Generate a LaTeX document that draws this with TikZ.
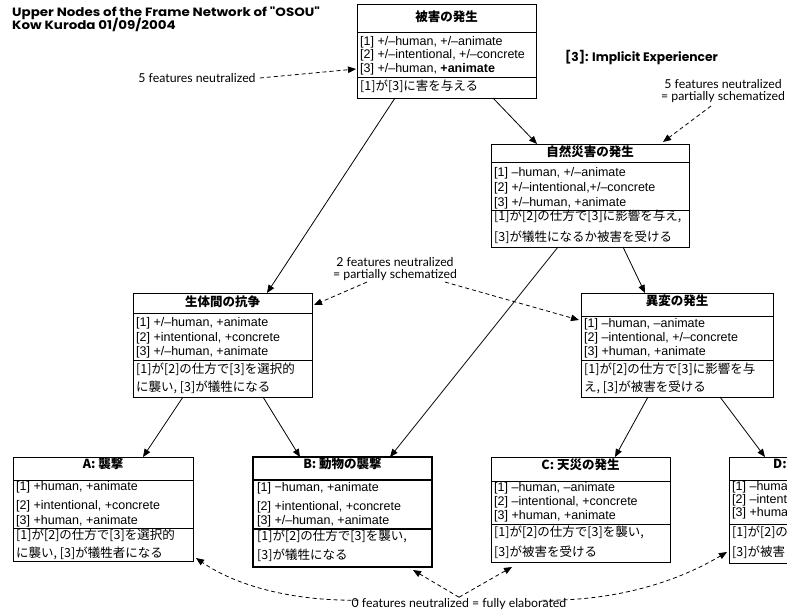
\documentclass[tikz,border=0pt]{standalone}
\usepackage{fontspec}
\setmainfont{Liberation Sans}
\newfontfamily\jpf{Noto Sans CJK JP}
\newfontfamily\labf{Lato}
\newfontfamily\ttlf{Poppins}[FakeStretch=1.12]
\newfontfamily\implf{Poppins}
\usetikzlibrary{arrows.meta}
\begin{document}
\begin{tikzpicture}[x=1pt,y=-1pt,
  fbox/.style={draw, line width=0.9pt, inner sep=0pt, outer sep=0pt, anchor=north west},
  thickbox/.style={fbox, line width=2pt},
  sepl/.style={line width=0.9pt},
  septhick/.style={line width=2pt},
  feat/.style={anchor=west, inner sep=0pt, font=\fontsize{12.5}{14}\selectfont},
  sent/.style={anchor=west, inner sep=0pt, font=\jpf\fontsize{12.5}{14}\selectfont},
  ttl/.style={inner sep=0pt, font=\jpf\bfseries\fontsize{12.5}{14}\selectfont},
  lab/.style={inner sep=1pt, align=center, font=\labf\fontsize{12.3}{12.5}\selectfont},
  head/.style={anchor=west, inner sep=0pt, font=\ttlf\bfseries\fontsize{12}{12}\selectfont},
  implst/.style={anchor=west, inner sep=0pt, font=\implf\bfseries\fontsize{12.3}{12}\selectfont},
  arr/.style={line width=0.8pt, -{Triangle[length=8pt,width=6.5pt]}},
  darr/.style={line width=0.8pt, dash pattern=on 4pt off 3pt, -{Triangle[length=8pt,width=6.5pt]}},
]
\useasboundingbox (0,0) rectangle (787,614);
\fill[white] (0,0) rectangle (787,614);
\clip (0,0) rectangle (787,614);

% headings
\node[head] (tl1) at (12,13) {Upper Nodes of the Frame Network of "OSOU"};
\node[head] (tl2) at (12,25) {Kow Kuroda 01/09/2004};
\node[implst] (impl) at (565,58) {[3]: Implicit Experiencer};

% top box
\node[fbox, minimum width=179pt, minimum height=94pt] (hg) at (357,4) {};
\node[ttl] (hgt) at (446.5,17) {被害の発生};
\draw[sepl] (357,32) -- (536,32);
\node[feat] (hg1) at (360,42) {[1] +/–human, +/–animate};
\node[feat] (hg2) at (360,55) {[2] +/–intentional, +/–concrete};
\node[feat] (hg3) at (360,69) {[3] +/–human, \textbf{+animate}};
\draw[sepl] (357,77) -- (536,77);
\node[sent] (hg4) at (360,86) {[1]が[3]に害を与える};

% shizen saigai
\node[fbox, minimum width=198pt, minimum height=103pt] (sz) at (491,144) {};
\node[ttl] (szt) at (590,152) {自然災害の発生};
\draw[sepl] (491,162) -- (689,162);
\node[feat] (sz1) at (494,173) {[1] –human, +/–animate};
\node[feat] (sz2) at (494,188) {[2] +/–intentional,+/–concrete};
\node[feat] (sz3) at (494,203) {[3] +/–human, +animate};
\draw[sepl] (491,210) -- (689,210);
\node[sent] (sz4) at (494,216) {[1]が[2]の仕方で[3]に影響を与え,};
\node[sent] (sz5) at (494,237) {[3]が犠牲になるか被害を受ける};

% seitaikan
\node[fbox, minimum width=179pt, minimum height=104pt] (sei) at (133,293) {};
\node[ttl] (seit) at (222.5,302) {生体間の抗争};
\draw[sepl] (133,313) -- (312,313);
\node[feat] (sei1) at (136,323) {[1] +/–human, +animate};
\node[feat] (sei2) at (136,338) {[2] +intentional, +concrete};
\node[feat] (sei3) at (136,352) {[3] +/–human, +animate};
\draw[sepl] (133,360) -- (312,360);
\node[sent] (sei4) at (136,369) {[1]が[2]の仕方で[3]を選択的};
\node[sent] (sei5) at (136,387) {に襲い, [3]が犠牲になる};

% ihen
\node[fbox, minimum width=192pt, minimum height=104pt] (iha) at (581,293) {};
\node[ttl] (ihat) at (677,301) {異変の発生};
\draw[sepl] (581,316) -- (773,316);
\node[feat] (iha1) at (584,324) {[1] –human, –animate};
\node[feat] (iha2) at (584,338) {[2] –intentional, +/–concrete};
\node[feat] (iha3) at (584,352) {[3] +human, +animate};
\draw[sepl] (581,360) -- (773,360);
\node[sent] (iha4) at (584,369) {[1]が[2]の仕方で[3]に影響を与};
\node[sent] (iha5) at (584,387) {え, [3]が被害を受ける};

% A
\node[fbox, minimum width=180pt, minimum height=104pt] (na) at (13,457) {};
\node[ttl] (nat) at (103,464) {A: 襲撃};
\draw[sepl] (13,480) -- (193,480);
\node[feat] (na1) at (16,487) {[1] +human, +animate};
\node[feat] (na2) at (16,506) {[2] +intentional, +concrete};
\node[feat] (na3) at (16,521) {[3] +human, +animate};
\draw[sepl] (13,528) -- (193,528);
\node[sent] (na4) at (16,535) {[1]が[2]の仕方で[3]を選択的};
\node[sent] (na5) at (16,553) {に襲い, [3]が犠牲者になる};

% B
\node[thickbox, minimum width=179pt, minimum height=110pt] (nb) at (253,457) {};
\node[ttl] (nbt) at (342.5,464) {B: 動物の襲撃};
\draw[septhick] (253,480) -- (432,480);
\node[feat] (nb1) at (257,488) {[1] −human, +animate};
\node[feat] (nb2) at (257,507) {[2] +intentional, +concrete};
\node[feat] (nb3) at (257,521) {[3] +/–human, +animate};
\draw[septhick] (253,529) -- (432,529);
\node[sent] (nb4) at (257,536) {[1]が[2]の仕方で[3]を襲い,};
\node[sent] (nb5) at (257,555) {[3]が犠牲になる};

% C
\node[fbox, minimum width=179pt, minimum height=105pt] (nc) at (491,457) {};
\node[ttl] (nct) at (580.5,465) {C: 天災の発生};
\draw[sepl] (491,481) -- (670,481);
\node[feat] (nc1) at (494,488) {[1] –human, –animate};
\node[feat] (nc2) at (494,502) {[2] –intentional, +concrete};
\node[feat] (nc3) at (494,516) {[3] +human, +animate};
\draw[sepl] (491,524) -- (670,524);
\node[sent] (nc4) at (494,532) {[1]が[2]の仕方で[3]を襲い,};
\node[sent] (nc5) at (494,552) {[3]が被害を受ける};

% D (cut by the right edge)
\node[fbox, minimum width=180pt, minimum height=106pt] (nd) at (729,457) {};
\node[ttl, anchor=west] (ndt) at (773,464) {D:};
\draw[sepl] (729,480) -- (909,480);
\node[feat] (nd1) at (732,487) {[1] –huma};
\node[feat] (nd2) at (732,500) {[2] –intent};
\node[feat] (nd3) at (732,513) {[3] +huma};
\draw[sepl] (729,524) -- (909,524);
\node[sent] (nd4) at (732,532) {[1]が[2]の};
\node[sent] (nd5) at (732,552) {[3]が被害};

% labels
\node[lab] (l5a) at (197,78) {5 features neutralized};
\node[lab] (l5b) at (723,91) {5 features neutralized\\= partially schematized};
\node[lab] (l2) at (395,269) {2 features neutralized\\= partially schematized};
\node[lab] (l0) at (459,604) {0 features neutralized = fully elaborated};

% solid connectors
\draw[arr] ([xshift=136pt]hg.south west) -- ([xshift=46pt]sz.north west);
\draw[arr] ([xshift=38pt]hg.south west) -- ([xshift=134pt]sei.north west);
\draw[arr] ([xshift=132pt]sz.south west) -- ([xshift=64pt]iha.north west);
\draw[arr] ([xshift=67pt]sz.south west) -- ([xshift=137pt]nb.north west);
\draw[arr] ([xshift=50pt]sei.south west) -- ([xshift=130pt]na.north west);
\draw[arr] ([xshift=130pt]sei.south west) -- ([xshift=47pt]nb.north west);
\draw[arr] ([xshift=67pt]iha.south west) -- ([xshift=124pt]nc.north west);
\draw[arr] ([xshift=139pt]iha.south west) -- ([xshift=36pt]nd.north west);

% dashed connectors
\draw[darr] ([xshift=3pt]l5a.east) -- ([xshift=-1pt,yshift=-65pt]hg.north west);
\draw[darr] ([xshift=-12pt,yshift=-2pt]l5b.south) -- ([xshift=172pt,yshift=2pt]sz.north west);
\draw[darr] ([xshift=-28pt]l2.south) -- ([xshift=2pt,yshift=-12pt]sei.north east);
\draw[darr] ([xshift=50pt]l2.south) -- ([xshift=-2pt,yshift=-27pt]iha.north west);
\draw[darr] ([xshift=8pt,yshift=-3pt]l0.north west) .. controls (290,601) and (235,585) .. ([xshift=3pt,yshift=3pt]na.south east);
\draw[darr] (l0.north) -- ([xshift=-19pt,yshift=-3pt]nb.south east);
\draw[darr] (l0.north) -- ([xshift=21pt,yshift=-5pt]nc.south west);
\draw[darr] ([xshift=-25pt,yshift=-3pt]l0.north east) .. controls (620,601) and (680,580) .. ([xshift=-2pt,yshift=-95pt]nd.north west);
\end{tikzpicture}
\end{document}
